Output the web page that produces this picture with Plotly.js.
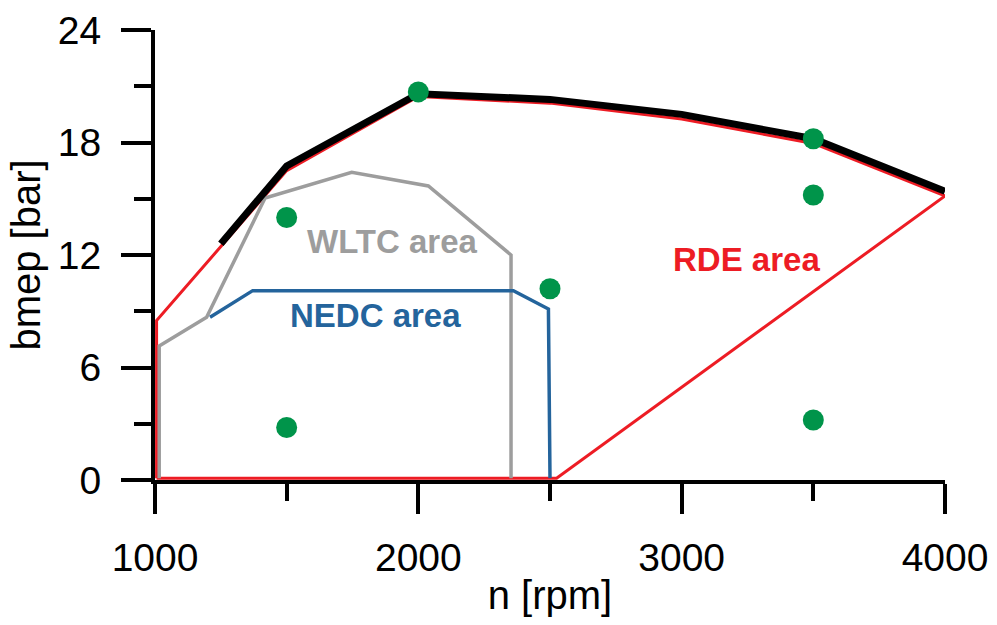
<!DOCTYPE html>
<html>
<head>
<meta charset="utf-8">
<script src="https://cdn.plot.ly/plotly-3.0.1.min.js"></script>
<style>html,body{margin:0;padding:0;background:#fff;}#chart{width:997px;height:625px;}</style>
</head>
<body>
<div id="chart"></div>
<script>
// Full-load curve (black)
const fullLoadRpm = [1250, 1500, 2000, 2500, 3000, 3500, 4000];
const fullLoadBmep = [12.6, 16.75, 20.6, 20.3, 19.5, 18.2, 15.4];
// RDE area (red)
const rdeRpm = [1006, 1006, 1500, 2000, 2500, 3000, 3500, 4000, 2525, 1006];
const rdeBmep = [0.1, 8.5, 16.5, 20.45, 20.1, 19.25, 17.95, 15.15, 0.1, 0.1];
// WLTC area (gray)
const wltcRpm = [1016, 1016, 1196, 1418, 1747, 2038, 2352, 2352];
const wltcBmep = [0.1, 7.15, 8.68, 15.04, 16.41, 15.68, 12.0, 0.1];
// NEDC area (blue)
const nedcRpm = [1209, 1371, 2361, 2494, 2500];
const nedcBmep = [8.68, 10.1, 10.1, 9.12, 0.1];
// Operating points (green)
const pointRpm = [1500, 1500, 2000, 2500, 3500, 3500, 3500];
const pointBmep = [14.0, 2.8, 20.7, 10.2, 18.2, 15.2, 3.2];
// Area labels
const labelText = ["WLTC area", "NEDC area", "RDE area"];
const labelRpm = [1900, 1839, 3248];
const labelBmep = [12.7, 8.8, 11.75];
const labelColor = ["#9d9d9d", "#24649c", "#ed1c24"];
// Axis ticks
const xTicks = [1000, 2000, 3000, 4000];
const yTicks = [0, 6, 12, 18, 24];

const FONT = "Arial, 'Liberation Sans', sans-serif";

const traces = [
  {x: rdeRpm, y: rdeBmep, mode: 'lines', line: {color: '#ed1c24', width: 3}, hoverinfo: 'skip'},
  {x: wltcRpm, y: wltcBmep, mode: 'lines', line: {color: '#9d9d9d', width: 3.5}, hoverinfo: 'skip'},
  {x: nedcRpm, y: nedcBmep, mode: 'lines', line: {color: '#24649c', width: 3.5}, hoverinfo: 'skip'},
  {x: fullLoadRpm, y: fullLoadBmep, mode: 'lines', line: {color: '#000000', width: 7}, hoverinfo: 'skip'},
  {x: pointRpm, y: pointBmep, mode: 'markers', marker: {color: '#00944a', size: 21, line: {width: 0}}, cliponaxis: false}
];

const annotations = labelText.map((t, i) => ({
  text: '<b>' + t + '</b>', x: labelRpm[i], y: labelBmep[i], xref: 'x', yref: 'y',
  showarrow: false, font: {family: FONT, size: 33, color: labelColor[i]}
}));

const layout = {
  width: 997, height: 625,
  margin: {l: 155, r: 52, t: 30, b: 145},
  paper_bgcolor: '#fff', plot_bgcolor: '#fff',
  showlegend: false,
  font: {family: FONT, color: '#000'},
  xaxis: {
    range: [1000, 4000], tickvals: xTicks, ticktext: xTicks.map(String),
    showgrid: false, zeroline: false,
    showline: true, linecolor: '#000', linewidth: 4,
    ticks: 'outside', ticklen: 30, tickwidth: 4, tickcolor: '#000',
    ticklabelstandoff: 10,
    minor: {dtick: 500, tick0: 1000, ticks: 'outside', ticklen: 17, tickwidth: 4, tickcolor: '#000', showgrid: false},
    tickfont: {family: FONT, size: 39, color: '#000'},
    title: {text: 'n [rpm]', font: {family: FONT, size: 40, color: '#000'}, standoff: 4}
  },
  yaxis: {
    range: [0, 24], tickvals: yTicks, ticktext: yTicks.map(String),
    showgrid: false, zeroline: false,
    showline: true, linecolor: '#000', linewidth: 4,
    ticks: 'outside', ticklen: 30, tickwidth: 4, tickcolor: '#000',
    ticklabelstandoff: 12,
    minor: {dtick: 3, tick0: 0, ticks: 'outside', ticklen: 17, tickwidth: 4, tickcolor: '#000', showgrid: false},
    tickfont: {family: FONT, size: 39, color: '#000'},
    title: {text: 'bmep [bar]', font: {family: FONT, size: 40, color: '#000'}, standoff: 6}
  },
  annotations: annotations
};

Plotly.newPlot('chart', traces, layout, {staticPlot: true, displayModeBar: false});
</script>
</body>
</html>
